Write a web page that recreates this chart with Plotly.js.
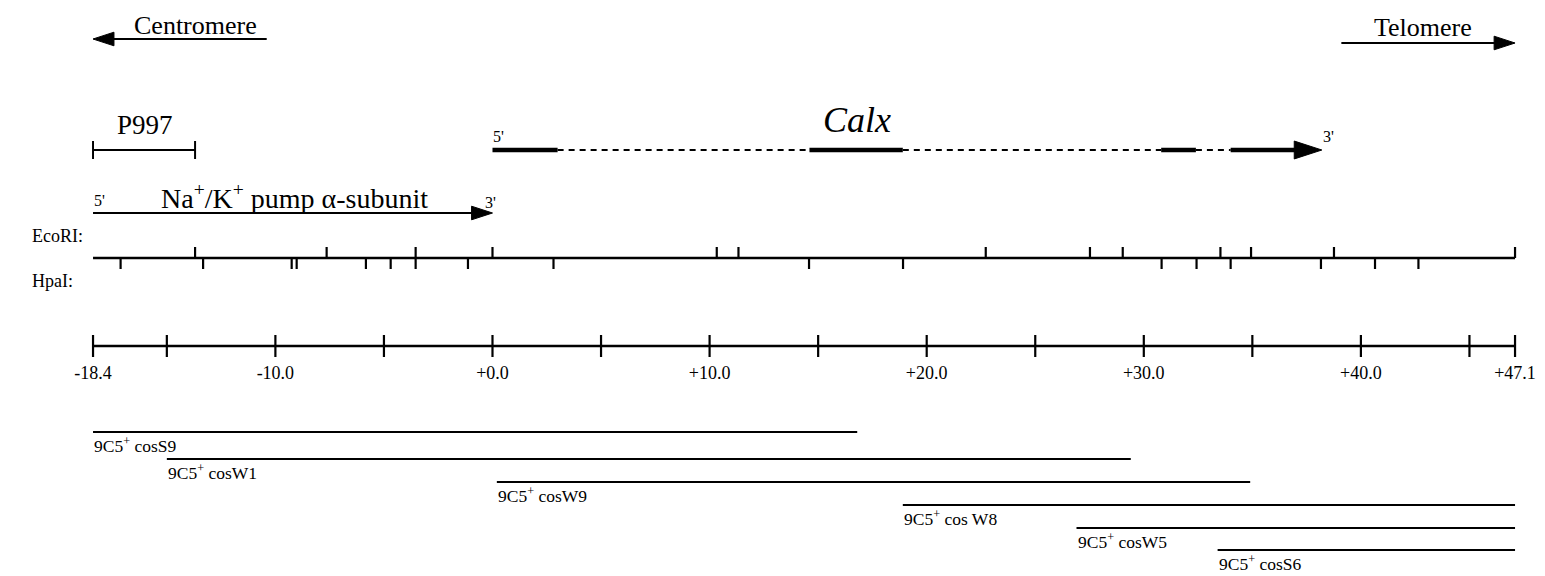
<!DOCTYPE html>
<html><head><meta charset="utf-8">
<script src="https://cdn.plot.ly/plotly-3.0.1.min.js"></script>
<style>html,body{margin:0;padding:0;background:#fff;}#chart{width:1545px;height:576px;}</style>
</head><body><div id="chart"></div>
<script>
// ---------------- data (kb, relative to the Calx 5' end) ----------------
const mapStart = -18.4;
const mapEnd = 47.1;
const scaleTicks = [-18.4, -15, -10, -5, 0, 5, 10, 15, 20, 25, 30, 35, 40, 45, 47.1];
const scaleLabelPos = [-18.4, -10, 0, 10, 20, 30, 40, 47.1];
const scaleLabelText = ["-18.4", "-10.0", "+0.0", "+10.0", "+20.0", "+30.0", "+40.0", "+47.1"];
const ecoRISites = [-13.7, -7.64, -3.54, 0.0, 10.33, 11.33, 22.72, 27.52, 29.03, 33.53, 34.94, 38.76, 47.1];
const hpaISites = [-17.13, -13.33, -9.25, -9.02, -5.83, -4.69, -3.54, -1.13, 2.81, 14.58, 18.91, 30.82, 32.43, 34.0, 38.16, 40.65, 42.65];
const p997Probe = [-18.4, -13.7];
const naKGene = [-18.4, 0.0];
const calxSolid = [[0.0, 3.0], [14.6, 18.9], [30.8, 32.4]];
const calxDashed = [[3.0, 14.6], [18.9, 30.8], [32.4, 34.0]];
const calxLast = [34.0, 38.2];
const cosmidNames = ["cosS9", "cosW1", "cosW9", "cos W8", "cosW5", "cosS6"];
const cosmidStart = [-18.4, -15.0, 0.2, 18.9, 26.9, 33.4];
const cosmidEnd = [16.8, 29.4, 34.9, 47.1, 47.1, 47.1];
const centromereArrow = [-10.4, -18.4];
const telomereArrow = [39.1, 47.1];

// ---------------- layout constants (rows in px from top) ----------------
const FONT = "Liberation Serif, Times New Roman, serif";
const K = "#000000";
const rowDir = [39, 43];
const rowGene = 150;
const rowNaK = 213;
const rowRestr = 258;
const rowScale = 346;
const rowCos = [432, 459, 482, 505, 528, 550];

function segs(pairs, y) {
  const xs = [], ys = [];
  pairs.forEach(p => { xs.push(p[0], p[1], null); ys.push(y, y, null); });
  return {x: xs, y: ys};
}
function ticks(pos, y0, y1) {
  const xs = [], ys = [];
  pos.forEach(p => { xs.push(p, p, null); ys.push(y0, y1, null); });
  return {x: xs, y: ys};
}
function arrowTrace(pair, y, w, size) {
  return {x: pair, y: [y, y], mode: 'lines+markers', line: {color: K, width: w},
    marker: {symbol: 'arrow', size: [0, size], angleref: 'previous', color: K, opacity: 1,
      line: {width: 1, color: K}},
    opacity: 1, hoverinfo: 'skip', showlegend: false};
}
function lineTrace(o, w, dash) {
  return {x: o.x, y: o.y, mode: 'lines', line: {color: K, width: w, dash: dash || 'solid'},
    hoverinfo: 'skip', showlegend: false, connectgaps: false};
}

const traces = [];
traces.push(arrowTrace(centromereArrow, rowDir[0], 1.8, 22));
traces.push(arrowTrace(telomereArrow, rowDir[1], 1.8, 22));
// P997 probe
traces.push(lineTrace(segs([p997Probe], rowGene), 2));
traces.push(lineTrace(ticks(p997Probe, rowGene - 9, rowGene + 9), 2));
// Na/K pump
traces.push(arrowTrace(naKGene, rowNaK, 2.2, 22));
// Calx
traces.push(lineTrace(segs(calxSolid, rowGene), 4.5));
traces.push(lineTrace(segs(calxDashed, rowGene), 2, '6px,5px'));
traces.push(arrowTrace(calxLast, rowGene, 4.5, 29));
// restriction map
traces.push(lineTrace(segs([[mapStart, mapEnd]], rowRestr), 2.5));
traces.push(lineTrace(ticks(ecoRISites, rowRestr - 11, rowRestr), 2.2));
traces.push(lineTrace(ticks(hpaISites, rowRestr, rowRestr + 11), 2.2));
// scale
traces.push(lineTrace(segs([[mapStart, mapEnd]], rowScale), 2.5));
traces.push(lineTrace(ticks(scaleTicks, rowScale - 11, rowScale + 11), 2.2));
traces.push({x: scaleLabelPos, y: scaleLabelPos.map(() => rowScale + 28), mode: 'text',
  text: scaleLabelText, textposition: 'middle center',
  textfont: {family: FONT, size: 18, color: K}, hoverinfo: 'skip', showlegend: false});
// cosmids
const cosX = [], cosY = [];
cosmidStart.forEach((s, i) => { cosX.push(s, cosmidEnd[i], null); cosY.push(rowCos[i], rowCos[i], null); });
traces.push(lineTrace({x: cosX, y: cosY}, 2));

function ann(text, x, y, size, anchor, extra) {
  return Object.assign({text: text, x: x, y: y, xref: 'x', yref: 'y', showarrow: false,
    xanchor: anchor || 'center', yanchor: 'middle', borderpad: 0,
    font: {family: FONT, size: size, color: K}}, extra || {});
}
const annotations = [
  ann('Centromere', -13.7, 25, 26),
  ann('Telomere', 42.85, 27, 26),
  ann('P997', -16.0, 125, 27),
  ann('<i>Calx</i>', 16.8, 120, 36),
  ann("5'", calxSolid[0][0], 136, 16, 'left'),
  ann("3'", calxLast[1], 136, 16, 'left'),
  ann("5'", naKGene[0], 200, 16, 'left'),
  ann("3'", naKGene[1] - 0.4, 202, 16, 'left'),
  ann('Na<sup>+</sup>/K<sup>+</sup> pump \u03b1-subunit', -9.1, 196, 28),
  {text: 'EcoRI:', x: 30 / 1545, y: 236, xref: 'paper', yref: 'y', showarrow: false, xanchor: 'left', yanchor: 'middle',
    font: {family: FONT, size: 18, color: K}},
  {text: 'HpaI:', x: 30 / 1545, y: 281, xref: 'paper', yref: 'y', showarrow: false, xanchor: 'left', yanchor: 'middle',
    font: {family: FONT, size: 18, color: K}}
];
cosmidNames.forEach((n, i) => {
  annotations.push(ann('9C5<sup>+</sup> ' + n, cosmidStart[i], rowCos[i] + 13, 17.5, 'left'));
});

const layout = {
  width: 1545, height: 576,
  margin: {l: 0, r: 0, t: 0, b: 0},
  paper_bgcolor: '#fff', plot_bgcolor: '#fff',
  showlegend: false,
  xaxis: {range: [-22.685, 48.48], visible: false, fixedrange: true},
  yaxis: {range: [576, 0], visible: false, fixedrange: true},
  annotations: annotations
};
Plotly.newPlot('chart', traces, layout, {staticPlot: true, displayModeBar: false});
</script>
</body></html>
